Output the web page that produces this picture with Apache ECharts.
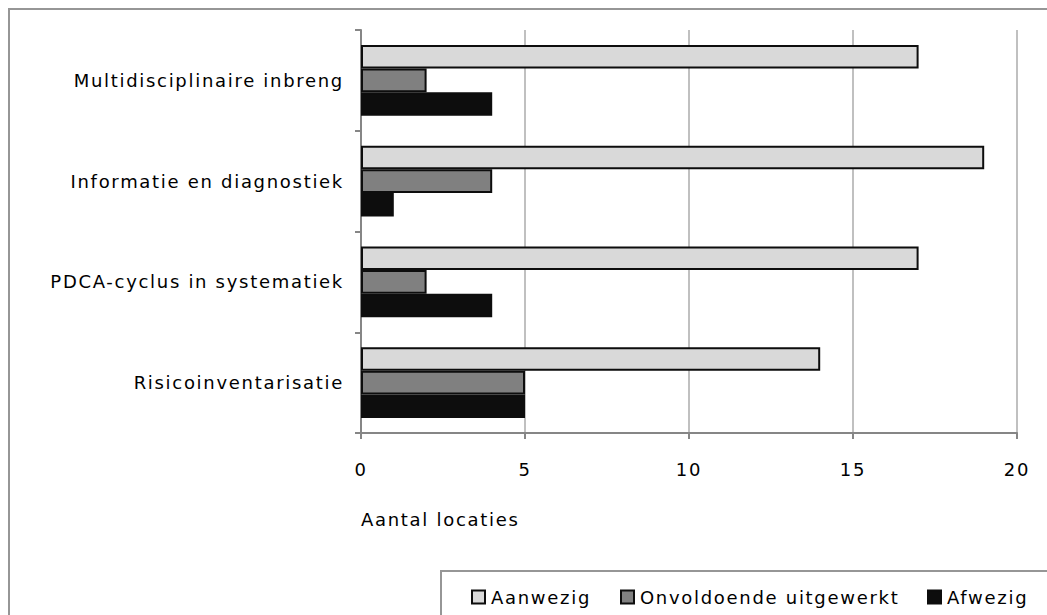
<!DOCTYPE html>
<html><head><meta charset="utf-8">
<script src="https://cdn.jsdelivr.net/npm/echarts@6/dist/echarts.min.js"></script>
<style>html,body{margin:0;padding:0;background:#fff}#c{width:1047px;height:615px}#c text{letter-spacing:1.7px}</style>
</head><body><div id="c"></div>
<script>
const categories = ['Multidisciplinaire inbreng','Informatie en diagnostiek','PDCA-cyclus in systematiek','Risicoinventarisatie'];
const aanwezig = [17, 19, 17, 14];
const onvoldoende = [2, 4, 2, 5];
const afwezig = [4, 1, 4, 5];
const seriesNames = ['Aanwezig','Onvoldoende uitgewerkt','Afwezig'];
const xTicks = [0, 5, 10, 15, 20];

const font = 'DejaVu Sans';
const fs = 18;
const chart = echarts.init(document.getElementById('c'), null, {renderer: 'svg'});
const legendLefts = [471, 620, 927];
chart.setOption({
  animation: false,
  textStyle: {fontFamily: font},
  grid: {left: 361, top: 30, width: 656, height: 403, containLabel: false},
  xAxis: {
    type: 'value', min: xTicks[0], max: xTicks[xTicks.length-1], interval: 5,
    name: 'Aantal locaties', nameLocation: 'start', nameGap: 0,
    nameTextStyle: {color: '#000', fontSize: fs, align: 'left', verticalAlign: 'top', padding: [77, 0, 0, 0]},
    axisLine: {show: true, lineStyle: {color: '#868686', width: 2}},
    axisTick: {show: true, length: 6, lineStyle: {color: '#868686', width: 2}},
    axisLabel: {color: '#000', fontSize: fs, margin: 27},
    splitLine: {show: true, lineStyle: {color: '#c0c0c0', width: 2}}
  },
  yAxis: {
    type: 'category', data: categories, inverse: true,
    axisLine: {show: true, lineStyle: {color: '#868686', width: 2}},
    axisTick: {show: true, length: 6, lineStyle: {color: '#868686', width: 2}},
    axisLabel: {color: '#000', fontSize: fs, margin: 17}
  },
  legend: seriesNames.map((n, i) => ({
    left: legendLefts[i], top: 588, padding: 0, itemWidth: 13, itemHeight: 13, itemGap: 0,
    icon: 'rect', textStyle: {color: '#000', fontSize: fs, padding: [0,0,0,1]},
    data: [n]
  })),
  graphic: [
    {type: 'rect', shape: {x: 9, y: 9, width: 1100, height: 700}, style: {fill: 'none', stroke: '#969696', lineWidth: 2}, z: -10},
    {type: 'rect', shape: {x: 441, y: 571, width: 700, height: 100}, style: {fill: '#fff', stroke: '#969696', lineWidth: 2}, z: -5}
  ],
  series: [
    {name: seriesNames[0], type: 'bar', data: aanwezig, barGap: '0%', barCategoryGap: '30%',
     itemStyle: {color: '#d9d9d9', borderColor: '#0d0d0d', borderWidth: 2}},
    {name: seriesNames[1], type: 'bar', data: onvoldoende, barGap: '0%', barCategoryGap: '30%',
     itemStyle: {color: '#808080', borderColor: '#0d0d0d', borderWidth: 2}},
    {name: seriesNames[2], type: 'bar', data: afwezig, barGap: '0%', barCategoryGap: '30%',
     itemStyle: {color: '#0d0d0d', borderColor: '#0d0d0d', borderWidth: 2}}
  ]
});
</script></body></html>
